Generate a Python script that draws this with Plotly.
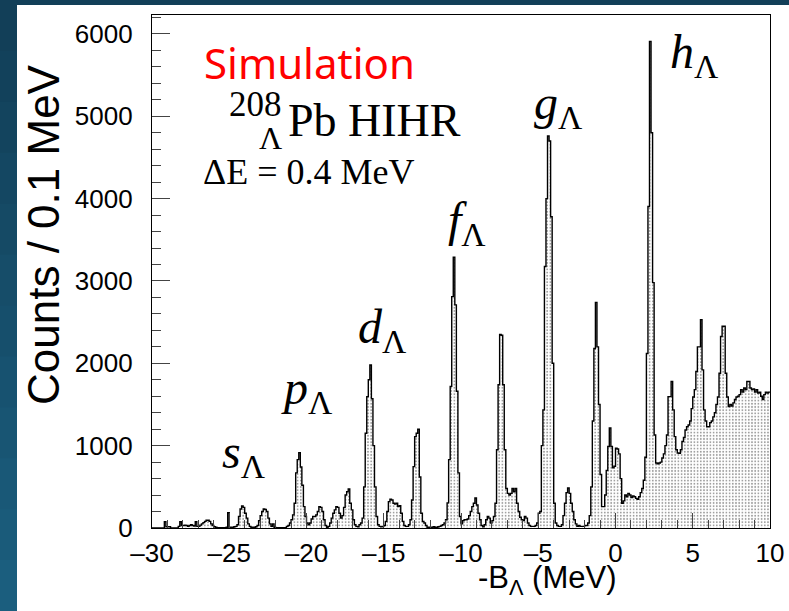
import plotly.graph_objects as go
import numpy as np

# ---- data: counts per 0.1 MeV bin, -B_Lambda from -30 to 10 MeV ----
bin_width = 0.1
x_start = -30.0

counts_m30_m20 = [
    0, 0, 0, 0, 0, 0, 0, 0, 75, 15,
    15, 15, 0, 0, 0, 0, 0, 20, 75, 30,
    30, 35, 30, 20, 30, 40, 30, 25, 75, 20,
    20, 35, 50, 65, 80, 95, 95, 80, 50, 30,
    15, 10, 5, 5, 5, 5, 5, 5, 10, 186,
    10, 10, 10, 15, 20, 40, 140, 230, 267, 250,
    180, 120, 50, 20, 10, 10, 10, 15, 30, 90,
    150, 200, 230, 225, 200, 120, 50, 20, 50, 10,
    5, 5, 5, 5, 5, 5, 5, 20, 30, 60,
    100, 160, 300, 670, 830, 915, 740, 520, 260, 140,
]
counts_m20_m10 = [
    60, 40, 60, 110, 140, 140, 160, 200, 260, 250,
    200, 100, 30, 10, 20, 60, 120, 180, 220, 260,
    250, 180, 120, 150, 250, 400, 440, 475, 300, 220,
    100, 40, 20, 15, 40, 60, 120, 500, 1150, 1595,
    1800, 1980, 1570, 1000, 500, 140, 40, 20, 15, 20,
    30, 80, 200, 320, 350, 340, 300, 290, 300, 260,
    270, 180, 80, 30, 20, 20, 40, 100, 340, 745,
    1110, 1150, 1200, 620, 180, 80, 60, 30, 10, 10,
    10, 10, 15, 10, 10, 15, 20, 30, 40, 60,
    100, 305, 830, 1720, 2810, 3290, 2710, 1660, 670, 140,
]
counts_m10_0 = [
    50, 90, 100, 100, 110, 150, 200, 260, 300, 365,
    280, 180, 100, 30, 15, 40, 100, 140, 120, 60,
    90, 140, 300, 950, 1740, 2350, 2340, 1740, 950, 480,
    420, 400, 420, 480, 440, 480, 300, 200, 130, 100,
    90, 140, 120, 60, 30, 20, 20, 20, 30, 60,
    180, 200, 1000, 1435, 3175, 4000, 4760, 4700, 3780, 2000,
    300, 60, 30, 20, 20, 40, 150, 300, 430, 485,
    420, 300, 200, 100, 50, 20, 30, 20, 20, 20,
    30, 30, 60, 150, 500, 1300, 2180, 2740, 2200, 1500,
    650, 260, 260, 400, 700, 990, 1215, 990, 730, 750,
]
counts_0_10 = [
    970, 960, 900, 600, 300, 330, 400, 380, 420, 400,
    370, 390, 380, 360, 350, 380, 430, 480, 580, 860,
    2120, 3905, 5910, 4800, 2980, 1130, 790, 780, 790, 800,
    850, 900, 1000, 1130, 1595, 1595, 1780, 1435, 1110, 950,
    910, 907, 950, 1050, 1100, 1190, 1230, 1250, 1300, 1450,
    1590, 1680, 1900, 2200, 2200, 2530, 1920, 1435, 1300, 1230,
    1230, 1280, 1300, 1350, 1400, 1500, 1590, 1880, 2325, 2450,
    2450, 1880, 1590, 1475, 1500, 1480, 1520, 1560, 1590, 1600,
    1620, 1680, 1650, 1700, 1680, 1780, 1780, 1700, 1680, 1690,
    1650, 1680, 1640, 1650, 1600, 1560, 1620, 1650, 1640, 1650,
]

peak_names = ["s", "p", "d", "f", "g", "h"]
peak_label_x = [-25.6, -21.8, -16.8, -11.0, -5.4, 3.4]
peak_label_y = [885, 1660, 2400, 3700, 5120, 5740]

x_ticks = [-30, -25, -20, -15, -10, -5, 0, 5, 10]
y_ticks = [0, 1000, 2000, 3000, 4000, 5000, 6000]

counts = counts_m30_m20 + counts_m20_m10 + counts_m10_0 + counts_0_10
edges = x_start + bin_width * np.arange(len(counts) + 1)
step_y = counts + [counts[-1]]

# ---- layout geometry (pixels) ----
W, H = 789, 611
L, R, T, B = 152, 19, 15, 83
PW, PH = W - L - R, H - T - B


def px(x):
    return (x - L) / PW


def py(y):
    return (H - B - y) / PH


fig = go.Figure()
fig.add_trace(go.Scatter(
    x=edges, y=step_y, mode="lines", line_shape="hv",
    line=dict(color="black", width=1.4),
    fill="tozeroy",
    fillcolor="rgba(0,0,0,0)",
    fillpattern=dict(shape=".", fgcolor="#333333", bgcolor="white",
                     size=3.2, solidity=0.25),
    hoverinfo="skip", showlegend=False,
))

shapes = []
# background: dark blue page with gradient on the left strip
shapes.append(dict(type="rect", xref="paper", yref="paper", layer="below",
                   x0=px(-5), x1=px(W + 5), y0=py(H + 5), y1=py(-5),
                   fillcolor="#123f58", line_width=0))
n_band = 12
c0 = np.array([0x12, 0x3f, 0x58])
c1 = np.array([0x1b, 0x5e, 0x7e])
for i in range(n_band):
    f = i / (n_band - 1)
    c = (c0 * (1 - f) + c1 * f).astype(int)
    shapes.append(dict(type="rect", xref="paper", yref="paper", layer="below",
                       x0=px(-5), x1=px(17.5),
                       y0=py(H * (i + 1) / n_band + 1), y1=py(H * i / n_band),
                       fillcolor="#%02x%02x%02x" % tuple(c), line_width=0))
# white panel
shapes.append(dict(type="rect", xref="paper", yref="paper", layer="below",
                   x0=px(17), x1=px(W + 5), y0=py(H + 5), y1=py(5),
                   fillcolor="white", line_width=0))

annotations = []
serif = "Liberation Serif"
sans = "Liberation Sans"

annotations.append(dict(text="Simulation", xref="paper", yref="paper",
                        x=px(202), y=py(62), xanchor="left", yanchor="middle",
                        showarrow=False,
                        font=dict(family="Noto Sans", size=42, color="#ff0000")))
annotations.append(dict(text="Pb HIHR", xref="paper", yref="paper",
                        x=px(286), y=py(120), xanchor="left", yanchor="middle",
                        showarrow=False,
                        font=dict(family=serif, size=46, color="black")))
annotations.append(dict(text="208", xref="paper", yref="paper",
                        x=px(284), y=py(104), xanchor="right", yanchor="middle",
                        showarrow=False,
                        font=dict(family=serif, size=35, color="black")))
annotations.append(dict(text="Λ", xref="paper", yref="paper",
                        x=px(284), y=py(138), xanchor="right", yanchor="middle",
                        showarrow=False,
                        font=dict(family=serif, size=32, color="black")))
annotations.append(dict(text="ΔE = 0.4 MeV", xref="paper", yref="paper",
                        x=px(201), y=py(172), xanchor="left", yanchor="middle",
                        showarrow=False,
                        font=dict(family=serif, size=36, color="black")))

for name, lx, ly in zip(peak_names, peak_label_x, peak_label_y):
    annotations.append(dict(text="<i>%s</i><sub>Λ</sub>" % name,
                            x=lx, y=ly, xref="x", yref="y",
                            xanchor="left", yanchor="middle", showarrow=False,
                            font=dict(family=serif, size=48, color="black")))

annotations.append(dict(text="-B<sub>Λ</sub> (MeV)", xref="paper", yref="paper",
                        x=px(619), y=py(580), xanchor="right", yanchor="middle",
                        showarrow=False,
                        font=dict(family=sans, size=31, color="black")))
annotations.append(dict(text="Counts / 0.1 MeV", xref="paper", yref="paper",
                        x=px(43), y=py(235), xanchor="center", yanchor="middle",
                        textangle=-90, showarrow=False,
                        font=dict(family=sans, size=44, color="black")))

fig.update_layout(
    width=W, height=H,
    margin=dict(l=L, r=R, t=T, b=B, pad=0, autoexpand=False),
    paper_bgcolor="#123f58",
    plot_bgcolor="white",
    shapes=shapes,
    annotations=annotations,
    showlegend=False,
)

fig.update_xaxes(
    range=[-30, 10], tickvals=x_ticks,
    ticktext=[("\u2013%d" % -v) if v < 0 else str(v) for v in x_ticks],
    showline=True, mirror=True, linecolor="black", linewidth=1.2,
    ticks="inside", ticklen=15, tickwidth=1, tickcolor="#444444",
    minor=dict(ticks="inside", ticklen=8, dtick=1, tickwidth=1, tickcolor="#444444"),
    showgrid=False, zeroline=False, automargin=False,
    tickfont=dict(family=sans, size=26, color="black"),
    ticklabelstandoff=2,
)
fig.update_yaxes(
    range=[0, 6230], tickvals=y_ticks,
    showline=True, mirror=True, linecolor="black", linewidth=1.2,
    ticks="inside", ticklen=18, tickwidth=1, tickcolor="#444444",
    minor=dict(ticks="inside", ticklen=9, dtick=200, tickwidth=1, tickcolor="#444444"),
    showgrid=False, zeroline=False, automargin=False,
    tickfont=dict(family=sans, size=26, color="black"),
    ticklabelstandoff=13,
)

fig.write_html(
    "out.html",
    config={"displayModeBar": False},
    post_script="document.body.style.margin='0';document.body.style.overflow='hidden';",
)
